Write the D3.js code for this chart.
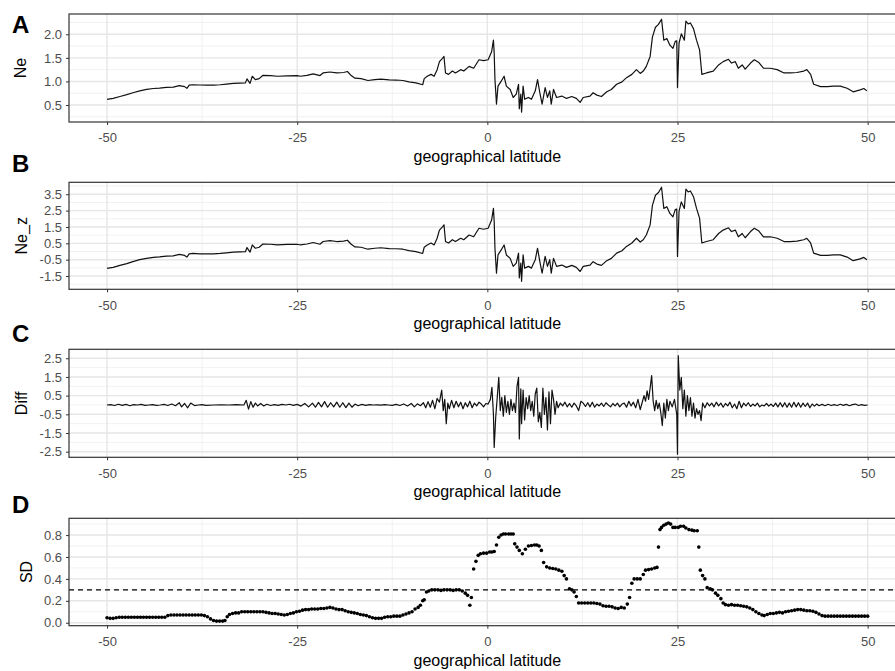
<!DOCTYPE html>
<html>
<head>
<meta charset="utf-8">
<script src="https://cdn.jsdelivr.net/npm/d3@7"></script>
<style>
body { margin: 0; background: #fff; }
svg { display: block; font-family: "Liberation Sans", Arial, sans-serif; }
</style>
</head>
<body>
<svg id="fig" width="895" height="671"></svg>
<script>
// ---- data ----
var latTicks = [-50, -25, 0, 25, 50],
	latMinor = [-37.5, -12.5, 12.5, 37.5];

var neTicks = [0.5, 1.0, 1.5, 2.0],
	neMinor = [0.25, 0.75, 1.25, 1.75, 2.25],
	neZTicks = [-1.5, -0.5, 0.5, 1.5, 2.5, 3.5],
	neZMinor = [-2, -1, 0, 1, 2, 3, 4],
	diffTicks = [-2.5, -1.5, -0.5, 0.5, 1.5, 2.5],
	diffMinor = [-2, -1, 0, 1, 2],
	sdTicks = [0, 0.2, 0.4, 0.6, 0.8],
	sdMinor = [0.1, 0.3, 0.5, 0.7, 0.9],
	sdThreshold = 0.3;

// [latitude, Ne]
var neSeries = [
	[-50.0,0.62],[-49.2,0.64],[-48.3,0.68],[-47.4,0.72],[-46.6,0.76],[-45.7,0.80],[-44.8,0.83],[-43.9,0.85],
	[-43.1,0.86],[-42.2,0.875],[-41.3,0.88],[-40.5,0.91],[-39.8,0.89],[-39.5,0.855],[-39.2,0.92],[-38.7,0.93],
	[-37.8,0.925],[-36.9,0.92],[-36.0,0.92],[-35.1,0.93],[-34.3,0.945],[-33.4,0.96],[-32.5,0.965],[-31.8,0.97],
	[-31.6,1.055],[-31.2,0.96],[-30.9,1.11],[-30.5,1.04],[-30.0,1.06],[-29.5,1.13],[-28.5,1.125],[-27.6,1.11],
	[-26.3,1.12],[-25.0,1.125],[-24.6,1.11],[-23.7,1.13],[-22.9,1.16],[-22.0,1.125],[-21.6,1.18],[-20.7,1.20],
	[-19.8,1.18],[-18.9,1.19],[-18.4,1.21],[-17.9,1.125],[-17.4,1.07],[-16.6,1.06],[-15.7,1.02],[-14.8,1.04],
	[-14.0,1.05],[-12.9,1.035],[-12.0,1.03],[-11.1,1.02],[-10.3,0.99],[-9.4,0.97],[-8.5,0.93],[-8.3,1.06],
	[-7.9,1.11],[-7.4,1.15],[-7.0,1.11],[-6.6,1.25],[-6.3,1.42],[-5.9,1.49],[-5.7,1.53],[-5.5,1.18],
	[-5.1,1.15],[-4.6,1.22],[-4.2,1.18],[-3.5,1.25],[-3.1,1.22],[-2.4,1.32],[-1.8,1.28],[-1.1,1.46],
	[-0.5,1.44],[0.1,1.46],[0.56,1.63],[0.8,1.875],[0.9,1.6],[1.0,1.04],[1.2,0.52],[1.4,0.90],
	[1.8,1.00],[2.2,1.11],[2.5,0.90],[3.0,0.83],[3.4,0.66],[3.8,0.73],[4.1,0.94],[4.2,0.42],
	[4.4,0.73],[4.5,0.35],[4.7,0.90],[4.9,0.625],[5.4,0.66],[5.8,0.625],[6.3,0.80],[6.6,1.04],
	[6.9,0.76],[7.2,0.52],[7.6,0.87],[7.9,0.66],[8.2,0.80],[8.4,0.52],[8.7,0.83],[9.1,0.66],
	[9.8,0.69],[10.4,0.64],[11.1,0.68],[11.7,0.64],[12.2,0.555],[12.6,0.66],[13.5,0.69],[13.9,0.76],
	[14.4,0.71],[15.0,0.68],[15.7,0.78],[16.3,0.83],[17.0,0.94],[17.7,0.99],[18.3,1.08],[19.0,1.15],
	[19.6,1.25],[20.1,1.17],[20.5,1.22],[20.9,1.32],[21.4,1.53],[21.7,1.94],[22.1,2.15],[22.5,2.21],
	[22.9,2.32],[23.2,1.875],[23.6,1.91],[24.0,1.77],[24.4,1.70],[24.7,1.85],[24.9,1.86],[25.0,0.87],
	[25.2,1.81],[25.5,2.01],[25.9,1.875],[26.1,2.28],[26.4,2.22],[26.7,2.24],[27.1,2.12],[27.5,1.875],
	[27.9,1.67],[28.2,1.15],[28.8,1.18],[29.7,1.22],[30.4,1.35],[31.0,1.42],[31.7,1.47],[32.1,1.39],
	[32.6,1.42],[33.0,1.28],[33.5,1.35],[33.9,1.26],[34.6,1.39],[35.1,1.46],[35.7,1.40],[36.3,1.28],
	[37.2,1.28],[38.1,1.25],[39.0,1.18],[39.8,1.18],[40.7,1.19],[41.6,1.22],[42.0,1.25],[42.5,1.15],
	[42.9,0.94],[43.8,0.89],[44.7,0.89],[45.5,0.90],[46.4,0.90],[47.3,0.855],[48.1,0.78],[49.0,0.82],
	[49.5,0.85],[49.9,0.80]
];

// [latitude, Ne_z]
var neZSeries = [
	[-50.0,-1.03],[-49.2,-0.97],[-48.3,-0.85],[-47.4,-0.74],[-46.6,-0.62],[-45.7,-0.50],[-44.8,-0.42],[-43.9,-0.36],
	[-43.1,-0.33],[-42.2,-0.285],[-41.3,-0.27],[-40.5,-0.18],[-39.8,-0.24],[-39.5,-0.34],[-39.2,-0.15],[-38.7,-0.12],
	[-37.8,-0.14],[-36.9,-0.15],[-36.0,-0.15],[-35.1,-0.12],[-34.3,-0.08],[-33.4,-0.04],[-32.5,-0.02],[-31.8,-0.01],
	[-31.6,0.24],[-31.2,-0.04],[-30.9,0.40],[-30.5,0.20],[-30.0,0.26],[-29.5,0.46],[-28.5,0.445],[-27.6,0.40],
	[-26.3,0.43],[-25.0,0.445],[-24.6,0.40],[-23.7,0.46],[-22.9,0.55],[-22.0,0.445],[-21.6,0.61],[-20.7,0.66],
	[-19.8,0.61],[-18.9,0.63],[-18.4,0.69],[-17.9,0.445],[-17.4,0.28],[-16.6,0.26],[-15.7,0.14],[-14.8,0.20],
	[-14.0,0.23],[-12.9,0.18],[-12.0,0.17],[-11.1,0.14],[-10.3,0.05],[-9.4,-0.01],[-8.5,-0.12],[-8.3,0.26],
	[-7.9,0.40],[-7.4,0.52],[-7.0,0.40],[-6.6,0.81],[-6.3,1.31],[-5.9,1.51],[-5.7,1.63],[-5.5,0.61],
	[-5.1,0.52],[-4.6,0.72],[-4.2,0.61],[-3.5,0.81],[-3.1,0.72],[-2.4,1.01],[-1.8,0.90],[-1.1,1.42],
	[-0.5,1.36],[0.1,1.42],[0.56,1.92],[0.8,2.635],[0.9,1.83],[1.0,0.20],[1.2,-1.32],[1.4,-0.21],
	[1.8,0.08],[2.2,0.40],[2.5,-0.21],[3.0,-0.42],[3.4,-0.91],[3.8,-0.71],[4.1,-0.10],[4.2,-1.61],
	[4.4,-0.71],[4.5,-1.82],[4.7,-0.21],[4.9,-1.015],[5.4,-0.91],[5.8,-1.015],[6.3,-0.50],[6.6,0.20],
	[6.9,-0.62],[7.2,-1.32],[7.6,-0.30],[7.9,-0.91],[8.2,-0.50],[8.4,-1.32],[8.7,-0.42],[9.1,-0.91],
	[9.8,-0.83],[10.4,-0.97],[11.1,-0.85],[11.7,-0.97],[12.2,-1.22],[12.6,-0.91],[13.5,-0.83],[13.9,-0.62],
	[14.4,-0.77],[15.0,-0.85],[15.7,-0.56],[16.3,-0.42],[17.0,-0.10],[17.7,0.05],[18.3,0.31],[19.0,0.52],
	[19.6,0.81],[20.1,0.58],[20.5,0.72],[20.9,1.01],[21.4,1.63],[21.7,2.82],[22.1,3.44],[22.5,3.61],
	[22.9,3.93],[23.2,2.635],[23.6,2.74],[24.0,2.33],[24.4,2.12],[24.7,2.56],[24.9,2.59],[25.0,-0.30],
	[25.2,2.45],[25.5,3.03],[25.9,2.635],[26.1,3.82],[26.4,3.64],[26.7,3.70],[27.1,3.35],[27.5,2.635],
	[27.9,2.04],[28.2,0.52],[28.8,0.61],[29.7,0.72],[30.4,1.10],[31.0,1.31],[31.7,1.45],[32.1,1.22],
	[32.6,1.31],[33.0,0.90],[33.5,1.10],[33.9,0.84],[34.6,1.22],[35.1,1.42],[35.7,1.25],[36.3,0.90],
	[37.2,0.90],[38.1,0.81],[39.0,0.61],[39.8,0.61],[40.7,0.63],[41.6,0.72],[42.0,0.81],[42.5,0.52],
	[42.9,-0.10],[43.8,-0.24],[44.7,-0.24],[45.5,-0.21],[46.4,-0.21],[47.3,-0.34],[48.1,-0.56],[49.0,-0.45],
	[49.5,-0.36],[49.9,-0.50]
];

// [latitude, Diff]
var diffSeries = [
	[-50.0,0],[-49.5,0.02],[-49.0,-0.03],[-48.5,0.04],[-48.0,-0.02],[-47.5,0.03],[-47.0,-0.04],[-46.5,0.02],
	[-46.0,0],[-45.5,0.03],[-45.0,-0.02],[-44.5,0],[-44.0,0.02],[-43.5,-0.02],[-43.0,0],[-42.5,0.03],
	[-42.0,-0.03],[-41.5,0.05],[-41.0,-0.04],[-40.5,0.12],[-40.2,-0.1],[-39.8,0.08],[-39.4,-0.15],[-39.0,0.1],
	[-38.5,-0.03],[-38.0,0],[-37.5,0.02],[-37.0,-0.02],[-36.0,0],[-35.0,0.01],[-34.0,0],[-33.0,0.02],
	[-32.0,0],[-31.7,0.25],[-31.4,-0.22],[-31.1,0.18],[-30.8,-0.12],[-30.5,0.1],[-30.2,-0.05],[-29.8,0.08],
	[-29.4,-0.05],[-29.0,0.04],[-28.5,-0.03],[-28.0,0.02],[-27.5,-0.02],[-27.0,0.03],[-26.5,0],[-26.0,0.04],
	[-25.5,-0.02],[-25.0,0.03],[-24.5,-0.06],[-24.0,0.08],[-23.5,-0.1],[-23.0,0.1],[-22.6,-0.12],[-22.2,0.14],
	[-21.8,-0.1],[-21.4,0.18],[-21.0,-0.12],[-20.6,0.12],[-20.2,-0.1],[-19.8,0.15],[-19.4,-0.12],[-19.0,0.12],
	[-18.6,-0.14],[-18.2,0.1],[-17.8,-0.12],[-17.4,0.05],[-17.0,-0.04],[-16.5,0.03],[-16.0,-0.02],[-15.5,0.02],
	[-15.0,0],[-14.5,0.01],[-14.0,-0.01],[-13.5,0.02],[-13.0,0],[-12.5,-0.02],[-12.0,0.03],[-11.5,-0.03],
	[-11.0,0.05],[-10.5,-0.05],[-10.0,0.08],[-9.6,-0.1],[-9.2,0.06],[-8.8,-0.04],[-8.4,0.12],[-8.1,-0.15],
	[-7.8,0.18],[-7.5,-0.12],[-7.2,0.25],[-6.9,-0.2],[-6.6,0.35],[-6.3,0.15],[-6.0,0.8],[-5.8,-0.3],
	[-5.6,0.3],[-5.4,-1.0],[-5.2,0.1],[-5.0,-0.2],[-4.7,0.25],[-4.4,-0.15],[-4.1,0.2],[-3.8,-0.1],
	[-3.5,0.15],[-3.2,-0.2],[-2.9,0.12],[-2.6,-0.1],[-2.3,0.2],[-2.0,-0.15],[-1.7,0.1],[-1.4,-0.05],
	[-1.1,0.15],[-0.8,0.05],[-0.5,-0.1],[-0.2,0.08],[0.1,0.05],[0.4,0.3],[0.6,0.95],[0.8,-0.5],
	[0.9,-2.27],[1.1,-0.66],[1.3,0.4],[1.5,1.48],[1.7,-0.3],[1.9,0.41],[2.1,-0.6],[2.3,0.5],
	[2.5,-0.4],[2.7,0.2],[2.9,-0.5],[3.1,0.3],[3.3,-0.3],[3.5,0.1],[3.7,-0.4],[3.9,1.0],
	[4.1,1.48],[4.2,-1.82],[4.4,0.86],[4.5,-1.0],[4.7,0.8],[4.9,-0.8],[5.1,0.4],[5.3,-0.2],
	[5.5,0.5],[5.7,-0.3],[5.9,0.2],[6.1,-0.6],[6.3,0.6],[6.5,0.9],[6.7,-0.9],[6.9,-0.4],
	[7.1,-1.2],[7.3,0.9],[7.5,-0.5],[7.7,0.4],[7.9,-1.34],[8.1,0.7],[8.3,-1.0],[8.5,0.8],
	[8.7,0.3],[8.9,-0.5],[9.1,0.2],[9.3,-0.15],[9.6,0.1],[9.9,-0.05],[10.2,0.15],[10.5,-0.1],
	[10.8,0.08],[11.1,-0.12],[11.4,0.1],[11.7,-0.05],[12.0,-0.3],[12.3,0.2],[12.6,0.1],[12.9,-0.08],
	[13.2,0.12],[13.5,-0.1],[13.8,0.15],[14.1,-0.12],[14.4,0.05],[14.7,-0.05],[15.0,0.1],[15.3,-0.08],
	[15.6,0.12],[15.9,0],[16.2,-0.1],[16.5,0.08],[16.8,-0.05],[17.1,0.1],[17.4,-0.1],[17.7,0.05],
	[18.0,0.1],[18.3,-0.12],[18.6,0.2],[18.9,-0.05],[19.2,0.15],[19.5,-0.15],[19.8,0.3],[20.1,-0.25],
	[20.4,0.2],[20.6,0.5],[20.8,0.2],[21.0,0.75],[21.2,0.3],[21.4,0.9],[21.6,1.57],[21.8,0.2],
	[22.0,-0.3],[22.2,0.25],[22.4,-0.2],[22.6,0.1],[22.8,-0.4],[23.0,-1.1],[23.2,0.1],[23.4,-0.7],
	[23.6,0.3],[23.8,-0.3],[24.0,0.2],[24.3,-0.1],[24.6,0.3],[24.9,-0.5],[25.0,-2.63],[25.1,2.64],
	[25.3,0.8],[25.5,1.48],[25.7,-0.2],[25.9,0.8],[26.1,-0.6],[26.3,0.5],[26.5,-0.3],[26.7,0.4],
	[26.9,-0.6],[27.1,0.1],[27.3,-0.7],[27.5,-0.2],[27.7,-0.5],[27.9,-0.3],[28.1,-0.84],[28.3,0.1],
	[28.6,-0.15],[28.9,0.12],[29.2,-0.05],[29.5,0.1],[29.8,-0.1],[30.1,0.15],[30.4,-0.05],[30.7,0.1],
	[31.0,-0.12],[31.3,0.08],[31.6,-0.05],[31.9,0.15],[32.2,-0.15],[32.5,0.05],[32.8,-0.2],[33.1,0.2],
	[33.4,-0.15],[33.7,0.1],[34.0,-0.05],[34.3,0.12],[34.6,-0.08],[34.9,0.05],[35.2,-0.05],[35.5,0.1],
	[35.8,-0.1],[36.1,0],[36.4,-0.05],[36.7,0.08],[37.0,-0.06],[37.3,0.05],[37.6,-0.08],[37.9,0.1],
	[38.2,-0.1],[38.5,0.12],[38.8,-0.1],[39.1,0.12],[39.4,-0.12],[39.7,0.1],[40.0,-0.12],[40.3,0.14],
	[40.6,-0.1],[40.9,0.12],[41.2,-0.12],[41.5,0.1],[41.8,-0.08],[42.1,0.1],[42.4,-0.15],[42.7,0.05],
	[43.0,-0.06],[43.3,0.05],[43.6,-0.04],[44.0,0.03],[44.4,-0.04],[44.8,0.04],[45.2,-0.03],[45.6,0.02],
	[46.0,-0.03],[46.4,0.04],[46.8,-0.02],[47.2,0.03],[47.6,-0.04],[48.0,0.02],[48.4,0.05],[48.8,-0.03],
	[49.2,0.02],[49.6,-0.02],[50.0,0]
];

// [latitude, SD]
var sdSeries = [
	[-50.0,0.045],[-49.6,0.04],[-49.2,0.04],[-48.8,0.045],[-48.4,0.05],[-48.0,0.05],[-47.6,0.05],[-47.2,0.05],
	[-46.8,0.05],[-46.4,0.05],[-46.0,0.05],[-45.6,0.05],[-45.2,0.05],[-44.8,0.05],[-44.4,0.05],[-44.0,0.05],
	[-43.6,0.05],[-43.2,0.05],[-42.8,0.05],[-42.4,0.05],[-42.0,0.065],[-41.6,0.07],[-41.2,0.07],[-40.8,0.07],
	[-40.4,0.07],[-40.0,0.07],[-39.6,0.07],[-39.2,0.07],[-38.8,0.07],[-38.4,0.07],[-38.0,0.07],[-37.6,0.07],
	[-37.2,0.065],[-36.8,0.055],[-36.4,0.035],[-36.0,0.02],[-35.6,0.015],[-35.2,0.015],[-34.8,0.015],[-34.5,0.02],
	[-34.2,0.055],[-33.9,0.075],[-33.5,0.085],[-33.1,0.09],[-32.7,0.09],[-32.3,0.1],[-31.9,0.1],[-31.5,0.1],
	[-31.1,0.1],[-30.7,0.1],[-30.3,0.1],[-29.9,0.1],[-29.5,0.1],[-29.1,0.095],[-28.7,0.09],[-28.3,0.085],
	[-27.9,0.085],[-27.5,0.08],[-27.1,0.075],[-26.7,0.07],[-26.3,0.075],[-25.9,0.085],[-25.5,0.09],[-25.1,0.1],
	[-24.7,0.105],[-24.3,0.115],[-23.9,0.12],[-23.5,0.12],[-23.1,0.125],[-22.7,0.125],[-22.3,0.125],[-21.9,0.13],
	[-21.5,0.13],[-21.1,0.135],[-20.7,0.14],[-20.3,0.135],[-19.9,0.125],[-19.5,0.12],[-19.1,0.12],[-18.7,0.11],
	[-18.3,0.1],[-17.9,0.095],[-17.5,0.09],[-17.1,0.085],[-16.7,0.075],[-16.3,0.07],[-15.9,0.065],[-15.5,0.055],
	[-15.1,0.045],[-14.7,0.04],[-14.3,0.04],[-13.9,0.04],[-13.5,0.05],[-13.1,0.055],[-12.7,0.055],[-12.3,0.06],
	[-11.9,0.06],[-11.5,0.06],[-11.1,0.07],[-10.7,0.08],[-10.3,0.09],[-9.9,0.1],[-9.5,0.125],[-9.1,0.14],
	[-8.8,0.16],[-8.5,0.2],[-8.3,0.21],[-8.0,0.28],[-7.7,0.29],[-7.3,0.3],[-6.9,0.3],[-6.5,0.3],
	[-6.1,0.295],[-5.7,0.3],[-5.3,0.3],[-4.9,0.3],[-4.5,0.295],[-4.1,0.3],[-3.7,0.3],[-3.3,0.29],
	[-2.9,0.27],[-2.6,0.25],[-2.3,0.16],[-2.1,0.23],[-1.8,0.49],[-1.5,0.56],[-1.2,0.615],[-0.9,0.63],
	[-0.5,0.635],[-0.1,0.635],[0.3,0.645],[0.6,0.645],[0.9,0.65],[1.2,0.71],[1.5,0.78],[1.8,0.8],
	[2.1,0.81],[2.4,0.81],[2.8,0.81],[3.1,0.81],[3.4,0.81],[3.6,0.72],[3.9,0.69],[4.2,0.66],
	[4.6,0.63],[5.0,0.67],[5.4,0.7],[5.8,0.705],[6.2,0.71],[6.5,0.71],[6.8,0.7],[7.1,0.66],
	[7.4,0.55],[7.8,0.51],[8.2,0.5],[8.6,0.495],[9.0,0.49],[9.4,0.48],[9.8,0.47],[10.1,0.43],
	[10.4,0.4],[10.8,0.31],[11.1,0.3],[11.4,0.28],[11.7,0.24],[12.0,0.18],[12.4,0.18],[12.8,0.18],
	[13.2,0.18],[13.6,0.18],[14.0,0.18],[14.4,0.175],[14.8,0.17],[15.2,0.155],[15.6,0.15],[16.0,0.15],
	[16.4,0.145],[16.8,0.135],[17.2,0.13],[17.6,0.14],[18.0,0.135],[18.4,0.17],[18.7,0.23],[19.0,0.36],
	[19.3,0.4],[19.7,0.4],[20.1,0.4],[20.5,0.44],[20.8,0.48],[21.2,0.485],[21.6,0.49],[22.0,0.5],
	[22.3,0.505],[22.5,0.69],[22.7,0.85],[22.9,0.87],[23.2,0.89],[23.5,0.9],[23.8,0.91],[24.1,0.9],
	[24.4,0.87],[24.7,0.87],[25.1,0.87],[25.4,0.88],[25.8,0.88],[26.1,0.865],[26.5,0.85],[26.9,0.845],
	[27.2,0.84],[27.6,0.84],[27.8,0.69],[28.0,0.48],[28.3,0.43],[28.6,0.4],[28.9,0.32],[29.3,0.31],
	[29.6,0.3],[30.0,0.27],[30.3,0.25],[30.7,0.22],[31.0,0.18],[31.3,0.165],[31.7,0.16],[32.1,0.165],
	[32.5,0.16],[32.9,0.16],[33.3,0.155],[33.7,0.15],[34.1,0.145],[34.5,0.135],[34.9,0.12],[35.3,0.1],
	[35.7,0.085],[36.1,0.07],[36.4,0.065],[36.8,0.075],[37.2,0.085],[37.6,0.085],[38.0,0.09],[38.4,0.095],
	[38.8,0.09],[39.2,0.1],[39.6,0.105],[40.0,0.11],[40.4,0.115],[40.8,0.12],[41.2,0.12],[41.6,0.115],
	[42.0,0.11],[42.4,0.11],[42.8,0.105],[43.2,0.095],[43.6,0.08],[44.0,0.065],[44.4,0.06],[44.8,0.06],
	[45.2,0.06],[45.6,0.06],[46.0,0.06],[46.4,0.06],[46.8,0.06],[47.2,0.06],[47.6,0.06],[48.0,0.06],
	[48.4,0.06],[48.8,0.06],[49.2,0.06],[49.6,0.06],[50.0,0.06]
];

// ---- layout ----
var svg = d3.select("#fig"),
	left = 69, right = 905.7;

var x = d3.scaleLinear().domain([-55, 55]).range([left, right]);

var panels = [
	{letter: "A", letterY: 33, top: 14, bottom: 122, dom: [0.14, 2.43], ticks: neTicks, minor: neMinor, title: "Ne", titleX: 25.5, data: neSeries},
	{letter: "B", letterY: 172, top: 182.3, bottom: 289.3, dom: [-2.31, 4.23], ticks: neZTicks, minor: neZMinor, title: "Ne_z", titleX: 27, data: neZSeries},
	{letter: "C", letterY: 341.5, top: 349.3, bottom: 457.3, dom: [-2.8, 2.98], ticks: diffTicks, minor: diffMinor, title: "Diff", titleX: 27.3, data: diffSeries},
	{letter: "D", letterY: 512.5, top: 518.3, bottom: 625.7, dom: [-0.027, 0.953], ticks: sdTicks, minor: sdMinor, title: "SD", titleX: 31.5, data: sdSeries, points: true}
];

panels.forEach(function(p, i) {
	var y = d3.scaleLinear().domain(p.dom).range([p.bottom, p.top]),
		g = svg.append("g");

	g.append("clipPath").attr("id", "clip" + i)
		.append("rect").attr("x", left).attr("y", p.top)
		.attr("width", right - left).attr("height", p.bottom - p.top);

	//grid
	var grid = g.append("g").attr("clip-path", "url(#clip" + i + ")");
	grid.selectAll(".ymin").data(p.minor).enter().append("line")
		.attr("x1", left).attr("x2", right)
		.attr("y1", function(d) { return y(d); }).attr("y2", function(d) { return y(d); })
		.attr("stroke", "#eeeeee").attr("stroke-width", 0.8);
	grid.selectAll(".xmin").data(latMinor).enter().append("line")
		.attr("y1", p.top).attr("y2", p.bottom)
		.attr("x1", function(d) { return x(d); }).attr("x2", function(d) { return x(d); })
		.attr("stroke", "#eeeeee").attr("stroke-width", 0.8);
	grid.selectAll(".ymaj").data(p.ticks).enter().append("line")
		.attr("x1", left).attr("x2", right)
		.attr("y1", function(d) { return y(d); }).attr("y2", function(d) { return y(d); })
		.attr("stroke", "#e6e6e6").attr("stroke-width", 1.4);
	grid.selectAll(".xmaj").data(latTicks).enter().append("line")
		.attr("y1", p.top).attr("y2", p.bottom)
		.attr("x1", function(d) { return x(d); }).attr("x2", function(d) { return x(d); })
		.attr("stroke", "#e6e6e6").attr("stroke-width", 1.4);

	var marks = g.append("g").attr("clip-path", "url(#clip" + i + ")");
	if (p.points) {
		marks.append("line")
			.attr("x1", left).attr("x2", right)
			.attr("y1", y(sdThreshold)).attr("y2", y(sdThreshold))
			.attr("stroke", "#000").attr("stroke-width", 1.2)
			.attr("stroke-dasharray", "5,4");
		marks.selectAll("circle").data(p.data).enter().append("circle")
			.attr("cx", function(d) { return x(d[0]); })
			.attr("cy", function(d) { return y(d[1]); })
			.attr("r", 1.8)
			.attr("fill", "#000");
	} else {
		marks.append("path").datum(p.data)
			.attr("fill", "none").attr("stroke", "#111").attr("stroke-width", 1.2)
			.attr("stroke-linejoin", "round")
			.attr("d", d3.line().x(function(d) { return x(d[0]); }).y(function(d) { return y(d[1]); }));
	}

	// border
	g.append("rect").attr("x", left).attr("y", p.top)
		.attr("width", right - left).attr("height", p.bottom - p.top)
		.attr("fill", "none").attr("stroke", "#333").attr("stroke-width", 1.2);

	// axes
	var ya = g.append("g").attr("transform", "translate(" + left + ",0)")
		.call(d3.axisLeft(y).tickValues(p.ticks).tickSize(3).tickPadding(4)
			.tickFormat(function(d) { return d.toFixed(1); }));
	var xa = g.append("g").attr("transform", "translate(0," + p.bottom + ")")
		.call(d3.axisBottom(x).tickValues(latTicks).tickSize(3).tickPadding(8)
			.tickFormat(function(d) { return String(d); }));
	[ya, xa].forEach(function(a) {
		a.select(".domain").remove();
		a.selectAll(".tick line").attr("stroke", "#333");
		a.selectAll(".tick text").attr("fill", "#4d4d4d")
			.style("font-size", "13px").style("font-family", "'Liberation Sans', Arial, sans-serif");
	});

	// titles
	g.append("text")
		.attr("x", (left + right) / 2).attr("y", p.bottom + 40)
		.attr("text-anchor", "middle").style("font-size", "16px").attr("fill", "#000")
		.text("geographical latitude");
	g.append("text")
		.attr("transform", "translate(" + p.titleX + "," + (p.top + p.bottom) / 2 + ") rotate(-90)")
		.attr("text-anchor", "middle").style("font-size", "16px").attr("fill", "#000")
		.text(p.title);
	g.append("text")
		.attr("x", 12).attr("y", p.letterY)
		.style("font-size", "24px").style("font-weight", "bold").attr("fill", "#000")
		.text(p.letter);
});
</script>
</body>
</html>
